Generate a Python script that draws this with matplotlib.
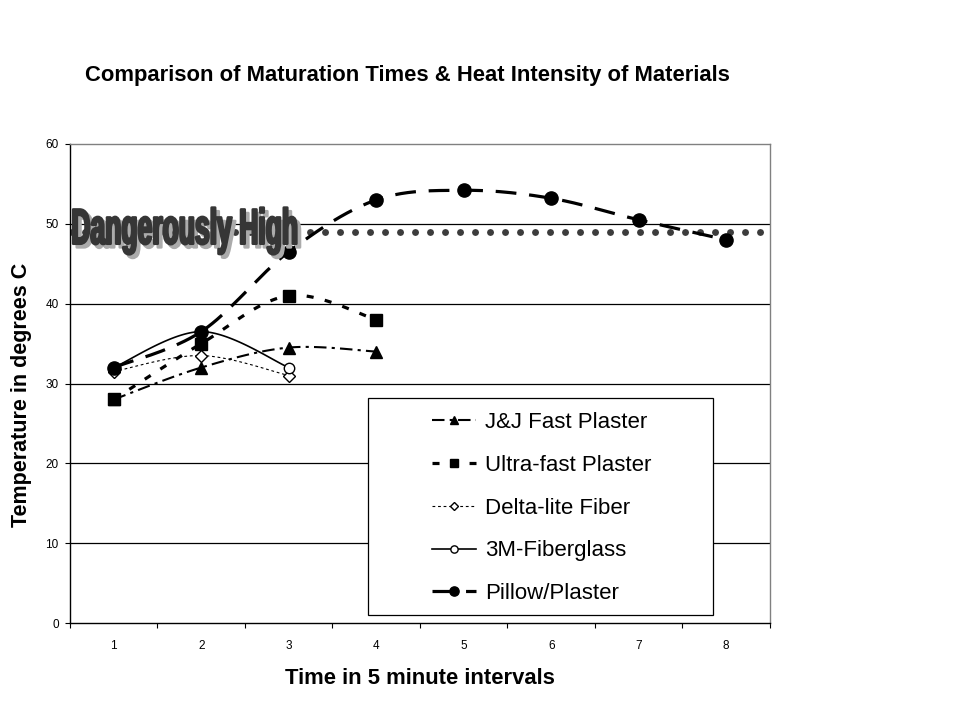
import numpy as np
import matplotlib
matplotlib.use("Agg")
import matplotlib.pyplot as plt
from matplotlib import patheffects as pe
from matplotlib import transforms as mtransforms
from matplotlib.lines import Line2D
from matplotlib.patches import Rectangle

# ---------------- data ----------------
intervals = [1, 2, 3, 4, 5, 6, 7, 8]
jj_fast = [28, 32, 34.5, 34]
ultra_fast = [28, 35, 41, 38]
delta_lite = [31.5, 33.5, 31]
fiberglass_3m = [32, 36.5, 32]
pillow_plaster = [32, 36.5, 46.5, 53, 54.2, 53.2, 50.5, 48]
danger_level = 49
y_ticks = [0, 10, 20, 30, 40, 50, 60]
series_names = ["J&J Fast Plaster", "Ultra-fast Plaster", "Delta-lite Fiber",
                "3M-Fiberglass", "Pillow/Plaster"]

FONT = ["Liberation Sans", "DejaVu Sans"]
plt.rcParams["font.family"] = FONT


def smooth(xs, ys, n=40):
    """Excel-style smoothed line through the points (cubic Bezier, Catmull-Rom tangents)."""
    pts = np.column_stack([xs, ys]).astype(float)
    P = np.vstack([pts[0], pts, pts[-1]])
    out = []
    t = np.linspace(0, 1, n)[:, None]
    for i in range(1, len(P) - 2):
        p0, p1, p2, p3 = P[i - 1], P[i], P[i + 1], P[i + 2]
        c1 = p1 + (p2 - p0) / 6.0
        c2 = p2 - (p3 - p1) / 6.0
        seg = (1 - t) ** 3 * p1 + 3 * (1 - t) ** 2 * t * c1 + 3 * (1 - t) * t ** 2 * c2 + t ** 3 * p2
        out.append(seg if i == 1 else seg[1:])
    return np.vstack(out)


class StretchFx(pe.AbstractPathEffect):
    """Draw text glyphs horizontally condensed (text stays a real Text object)."""

    def __init__(self, sx=1.0, sy=1.0, offset=(0, 0), fill=None, lw=0.0, ec=None):
        super().__init__(offset)
        self.sx, self.sy, self.fill, self.lw, self.ec = sx, sy, fill, lw, ec

    def draw_path(self, renderer, gc, tpath, affine, rgbFace=None):
        gc0 = renderer.new_gc()
        gc0.copy_properties(gc)
        if self.lw > 0:
            gc0.set_linewidth(self.lw)
            gc0.set_foreground(self.ec)
            gc0.set_joinstyle("round")
        else:
            gc0.set_linewidth(0)
        trans = (mtransforms.Affine2D().scale(self.sx, self.sy) + affine
                 + self._offset_transform(renderer))
        face = matplotlib.colors.to_rgba(self.fill) if self.fill is not None else rgbFace
        renderer.draw_path(gc0, tpath, trans, face)
        gc0.restore()


fig = plt.figure(figsize=(9.6, 7.2), dpi=100)
fig.patch.set_facecolor("white")
ax = fig.add_axes([70 / 960, 97 / 720, 700 / 960, 479 / 720])

ax.set_xlim(0.5, 8.5)
ax.set_ylim(0, 60)

# grid lines
for yv in y_ticks[1:-1]:
    ax.axhline(yv, color="black", lw=0.9, zorder=1)

# danger line (dotted)
ax.plot([0.5, 8.5], [danger_level, danger_level], color="#3c3c3c", lw=5.0,
        linestyle=(0, (0.01, 2.15)), dash_capstyle="round", zorder=2)

styles = [
    dict(x=intervals[:len(jj_fast)], y=jj_fast, lw=1.5, ls=(0, (6, 2.5, 1.5, 2.5)),
         marker="^", ms=8, mfc="black"),
    dict(x=intervals[:len(ultra_fast)], y=ultra_fast, lw=2.3, ls=(0, (2.2, 3.6)),
         marker="s", ms=8.5, mfc="black"),
    dict(x=intervals[:len(delta_lite)], y=delta_lite, lw=0.8, ls=(0, (2.5, 2.5)),
         marker="D", ms=6, mfc="white"),
    dict(x=intervals[:len(fiberglass_3m)], y=fiberglass_3m, lw=1.2, ls="-",
         marker="o", ms=7.5, mfc="white"),
    dict(x=intervals[:len(pillow_plaster)], y=pillow_plaster, lw=2.3, ls=(0, (6.5, 4)),
         marker="o", ms=9.5, mfc="black"),
]

handles = []
for name, st in zip(series_names, styles):
    curve = smooth(st["x"], st["y"])
    ax.plot(curve[:, 0], curve[:, 1], color="black", lw=st["lw"], linestyle=st["ls"],
            solid_capstyle="butt", dash_capstyle="butt", zorder=3)
    ax.plot(st["x"], st["y"], linestyle="none", marker=st["marker"], ms=st["ms"],
            mfc=st["mfc"], mec="black", mew=1.0, zorder=4)
    handles.append(Line2D([], [], color="black", lw=st["lw"],
                          linestyle=st["ls"], marker=st["marker"],
                          ms=st["ms"] * 0.7, mfc=st["mfc"], mec="black", mew=1.0))

# "Dangerously High" label with shadow
txt = ax.text(0.515, 47.5, "Dangerously High", ha="left", va="baseline",
              fontsize=36, fontweight="bold", color="#383838", zorder=5,
              family=FONT)
txt.set_path_effects([
    StretchFx(sx=0.53, offset=(2.6, -2.6), fill="#ababab", lw=1.8, ec="#ababab"),
    StretchFx(sx=0.53, fill="#363636", lw=1.8, ec="#363636"),
])

# axes styling
for side in ["top", "right"]:
    ax.spines[side].set_color("#808080")
    ax.spines[side].set_linewidth(1.0)
for side in ["left", "bottom"]:
    ax.spines[side].set_color("black")
    ax.spines[side].set_linewidth(1.0)

ax.set_yticks(y_ticks)
ax.set_yticklabels([str(v) for v in y_ticks])
ax.tick_params(axis="y", direction="out", length=3.6, width=0.8, pad=4.5,
               labelsize=8.5, colors="black")

ax.set_xticks(np.arange(0.5, 8.51, 1.0))
ax.set_xticklabels([])
ax.tick_params(axis="x", which="major", direction="out", length=3.6, width=0.8)
ax.set_xticks(intervals, minor=True)
ax.set_xticklabels([str(v) for v in intervals], minor=True)
ax.tick_params(axis="x", which="minor", length=0, pad=12, labelsize=8.5)

# legend box + legend
ax.add_patch(Rectangle((298 / 700, 8 / 479), 345 / 700, 217 / 479, transform=ax.transAxes,
                       facecolor="white", edgecolor="black", lw=0.9, zorder=6))
leg = ax.legend(handles, series_names, loc="center left",
                bbox_to_anchor=(432 / 960, 1 - 508 / 720), bbox_transform=fig.transFigure,
                frameon=False, fontsize=16, handlelength=2.0, handletextpad=0.4,
                labelspacing=0.98, borderpad=0, borderaxespad=0)
leg.set_zorder(7)

# titles
fig.text(407.5 / 960, 1 - 75 / 720, "Comparison of Maturation Times & Heat Intensity of Materials",
         ha="center", va="center", fontsize=15.8, fontweight="bold")
fig.text(419.5 / 960, 1 - 678 / 720, "Time in 5 minute intervals",
         ha="center", va="center", fontsize=15.8, fontweight="bold")
fig.text(22 / 960, 1 - 395 / 720, "Temperature in degrees C", rotation=90,
         ha="center", va="center", fontsize=15.5, fontweight="bold")

fig.savefig("out.png", dpi=100, facecolor="white")
